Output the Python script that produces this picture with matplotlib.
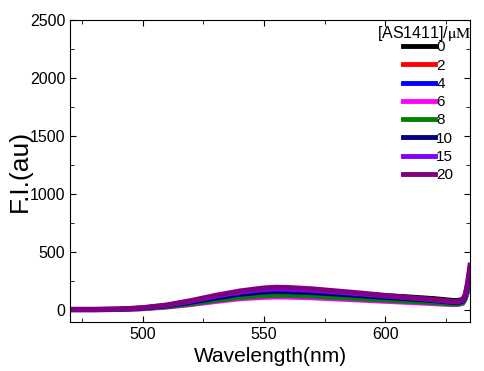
import matplotlib
matplotlib.use("Agg")
import matplotlib.pyplot as plt
from matplotlib.ticker import MultipleLocator

plt.rcParams['font.family'] = ['Liberation Sans', 'DejaVu Sans']
plt.rcParams['mathtext.fontset'] = 'stix'

# wavelength (nm) and fluorescence intensity for each AS1411 concentration
wavelength = [470, 480, 490, 500, 510, 520, 530, 540, 550, 555, 560, 570,
              580, 590, 600, 610, 620, 625, 628, 630, 632, 633, 634, 635]
fi_0 = [8, 8, 10, 20, 40, 72, 110, 142, 160, 165, 164, 158,
        148, 138, 128, 116, 102, 92, 86, 86, 95, 130, 210, 330]
fi_2 = [8, 8, 10, 18, 36, 64, 98, 128, 145, 150, 149, 142,
        130, 118, 106, 94, 80, 72, 66, 66, 76, 110, 190, 310]
fi_4 = [6, 6, 8, 16, 34, 60, 92, 120, 136, 140, 139, 132,
        120, 108, 96, 84, 70, 62, 58, 58, 68, 100, 170, 290]
fi_6 = [5, 5, 7, 14, 28, 50, 76, 100, 112, 115, 114, 108,
        98, 88, 78, 68, 58, 52, 50, 50, 60, 95, 165, 280]
fi_8 = [6, 6, 8, 16, 32, 56, 86, 112, 126, 130, 129, 122,
        111, 100, 89, 78, 66, 58, 54, 54, 64, 98, 170, 290]
fi_10 = [8, 8, 10, 20, 40, 70, 106, 138, 158, 162, 160, 152,
         140, 126, 112, 98, 84, 74, 68, 68, 78, 115, 200, 320]
fi_15 = [9, 9, 11, 22, 45, 80, 122, 158, 180, 185, 183, 174,
         158, 142, 124, 108, 90, 80, 74, 74, 85, 125, 220, 360]
fi_20 = [10, 10, 12, 24, 48, 86, 130, 168, 194, 200, 198, 186,
         168, 150, 130, 112, 94, 84, 78, 78, 90, 135, 240, 390]

series = [fi_0, fi_2, fi_4, fi_6, fi_8, fi_10, fi_15, fi_20]
labels = ["0", "2", "4", "6", "8", "10", "15", "20"]
colors = ["black", "red", "blue", "magenta", "green", "#000080", "#8000ff", "#800080"]

fig = plt.figure(figsize=(4.84, 3.71), dpi=100)
ax = fig.add_axes([0.145, 0.132, 0.826, 0.814])

for y, lab, c in zip(series, labels, colors):
    ax.plot(wavelength, y, color=c, lw=3.5, label=lab)

ax.set_xlim(470, 635)
ax.set_ylim(-100, 2500)
ax.xaxis.set_major_locator(MultipleLocator(50))
ax.xaxis.set_minor_locator(MultipleLocator(25))
ax.yaxis.set_major_locator(MultipleLocator(500))
ax.yaxis.set_minor_locator(MultipleLocator(250))
ax.tick_params(which='both', direction='in', top=True, right=True, labelsize=11.5)
ax.tick_params(which='major', length=4)
ax.tick_params(which='minor', length=3)
for s in ax.spines.values():
    s.set_linewidth(0.8)

ax.set_xlabel("Wavelength(nm)", fontsize=15, labelpad=4)
ax.set_ylabel("F.I.(au)", fontsize=19)
ax.yaxis.set_label_coords(-0.095, 0.5)

leg = ax.legend(loc='center left', bbox_to_anchor=(0.832, 0.70),
                bbox_transform=fig.transFigure,
                frameon=False, fontsize=11,
                handlelength=2.1, handletextpad=0.1, labelspacing=0.28,
                borderpad=0, borderaxespad=0)
fig.text(0.974, 0.911, r"[AS1411]/$\mathrm{\mu M}$", fontsize=11.5,
         ha='right', va='center')

fig.savefig("out.png", dpi=100)
